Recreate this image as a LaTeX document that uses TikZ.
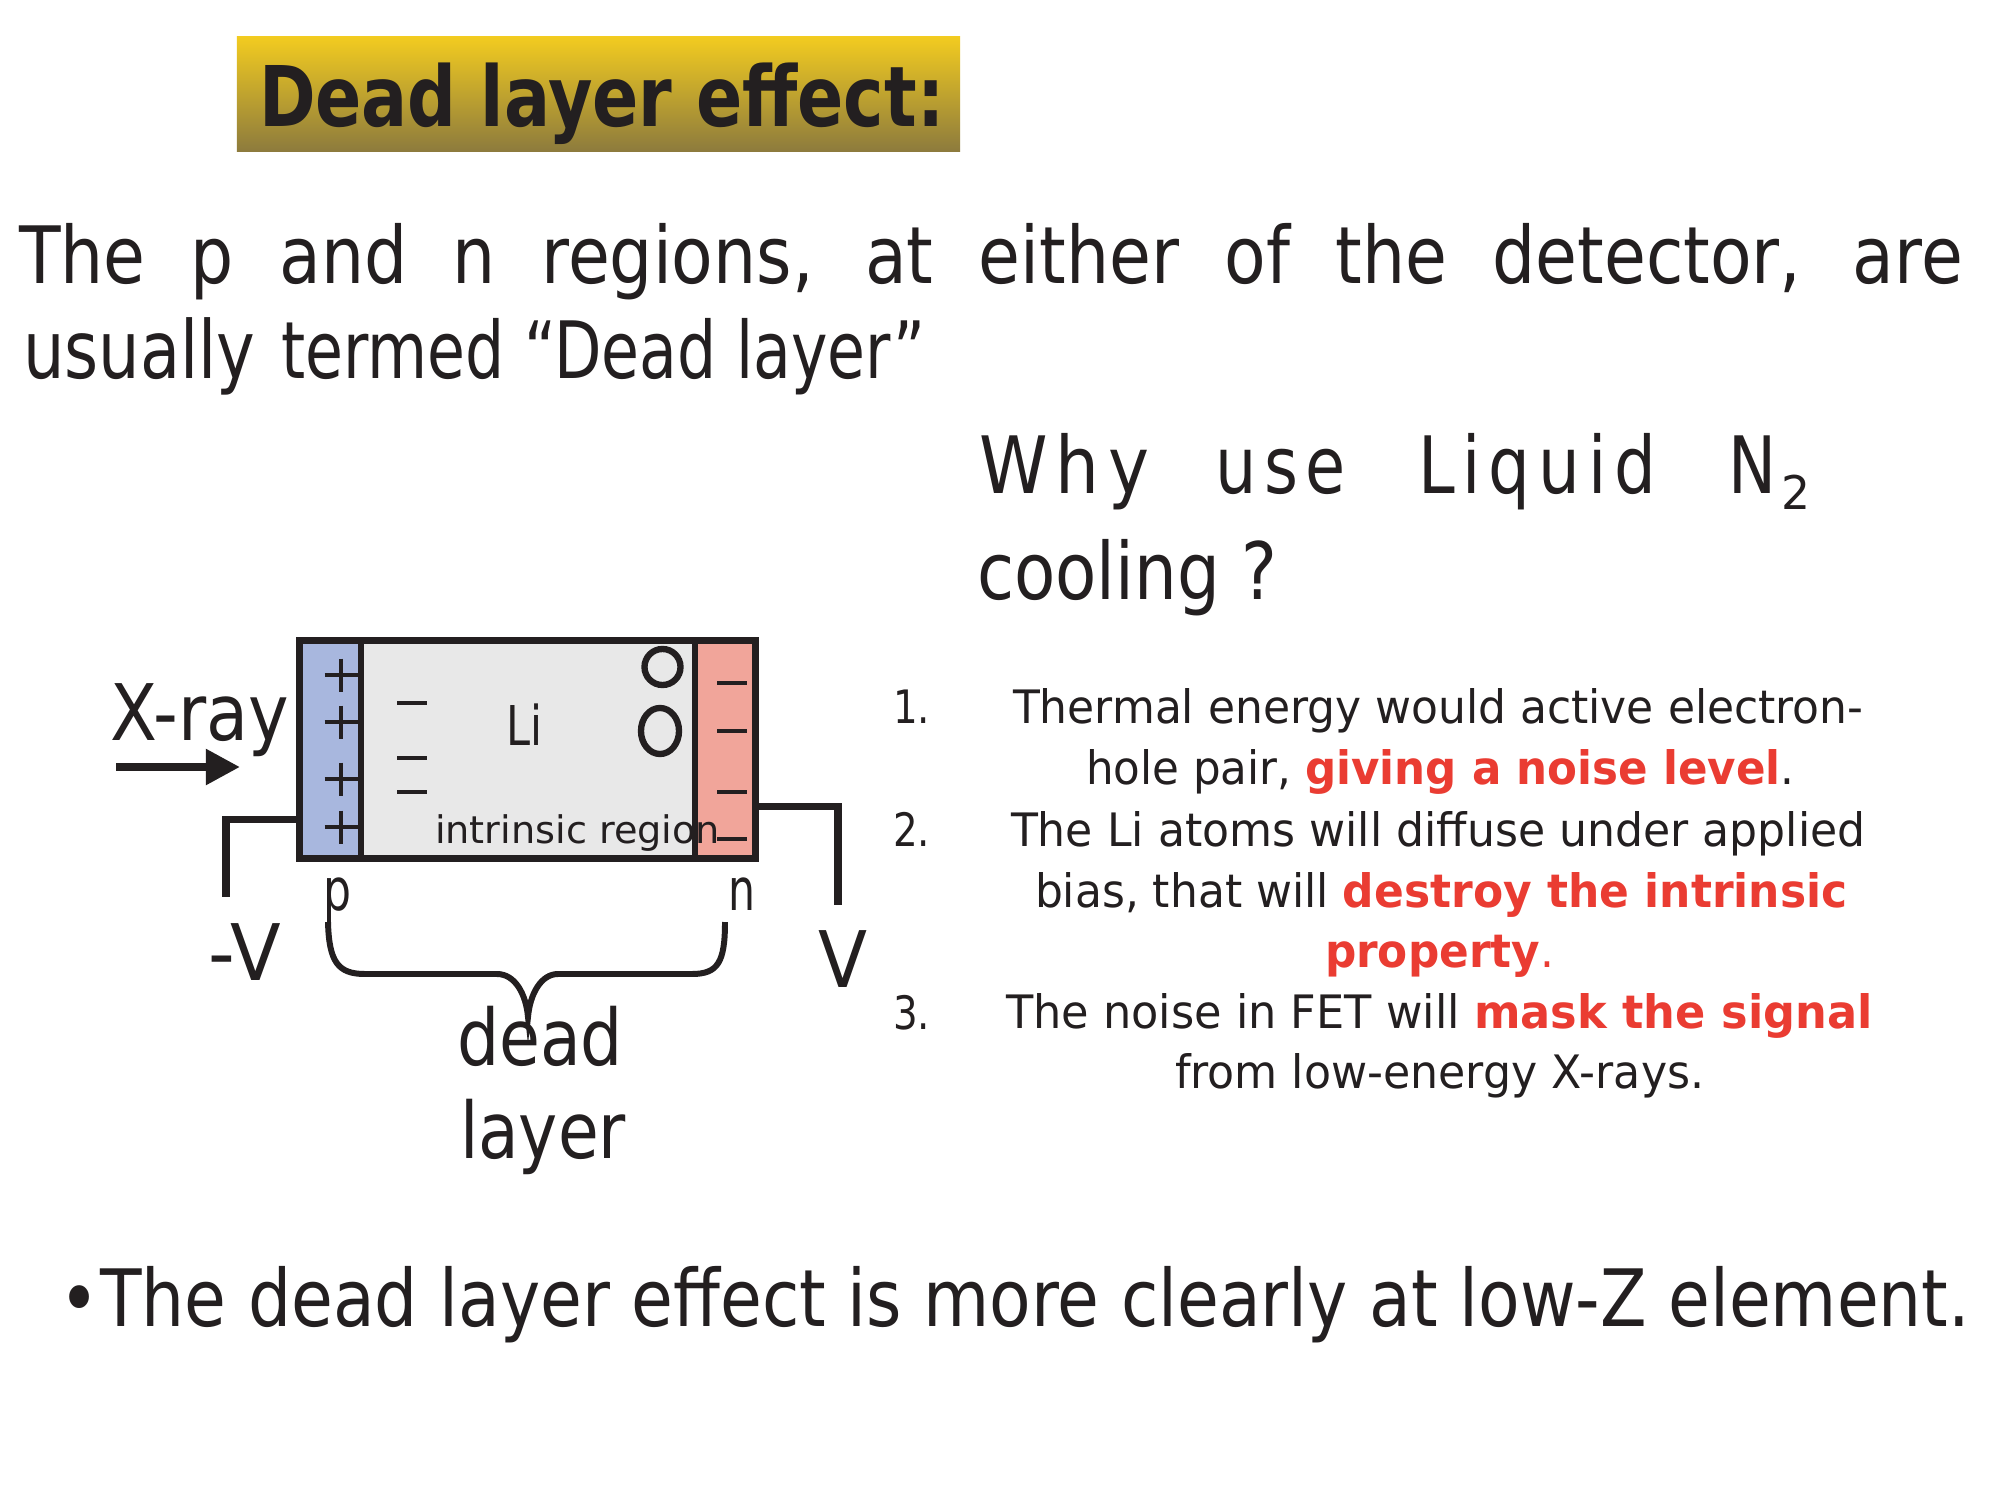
\documentclass[tikz,border=0pt]{standalone}
\usepackage{fontspec}
\setmainfont{DejaVu Sans}
\newfontfamily\spacedfont[LetterSpace=12]{DejaVu Sans}
\usepackage{graphicx}
\usetikzlibrary{arrows.meta}
\definecolor{fg}{HTML}{231F20}
\definecolor{hl}{HTML}{EA3C32}
\definecolor{pblue}{HTML}{A8B7DE}
\definecolor{igray}{HTML}{E8E8E8}
\definecolor{nred}{HTML}{F1A59A}
\definecolor{ttop}{HTML}{F2CB20}
\definecolor{tbot}{HTML}{8D7B3D}
\newlength\fitlen
\newcommand\fitto[2]{\settowidth{\fitlen}{#2}\pgfmathsetmacro\fitfac{#1/\fitlen}\scalebox{\fitfac}[1]{#2}}
\newcommand\fs[1]{\fontsize{#1}{#1}\selectfont}
\newcommand\hlb[1]{{\bfseries\color{hl}#1}}
\begin{document}
\begin{tikzpicture}[x=0.01cm,y=-0.01cm,
  txt/.style={inner sep=0pt,outer sep=0pt,anchor=base west,text=fg},
  wire/.style={draw=fg,line width=2pt},
  sign/.style={draw=fg,line width=1.4pt},
  hole/.style={draw=fg,line width=1.8pt}]
\useasboundingbox[fill=white] (0,0) rectangle (2000,1500);

% title
\node[inner sep=0pt, top color=ttop, bottom color=tbot, minimum width=7.23cm, minimum height=1.14cm] (tbox) at (598.5,94) {};
\node[txt] (title) at (259,127) {\fitto{6.85cm}{\fs{23.8pt}\bfseries Dead layer effect:}};

% intro text
\node[txt] (l1) at (19,283) {\scalebox{0.86}[1]{\makebox[22.59cm][s]{\fs{22.5pt}The p and n regions, at either of the detector, are}}};
\node[txt] (l2a) at (23,378) {\fitto{2.32cm}{\fs{22.8pt}usually}};
\node[txt] (l2b) at (281,378) {\fitto{6.44cm}{\fs{22.5pt}termed “Dead layer”}};

% question
\node[txt] (w1) at (979,493) {\fitto{1.70cm}{\fs{22.5pt}\spacedfont Why}};
\node[txt] (w2) at (1215,493) {\fitto{1.31cm}{\fs{22.5pt}\spacedfont use}};
\node[txt] (w3) at (1418,493) {\fitto{2.38cm}{\fs{22.5pt}\spacedfont Liquid}};
\node[txt] (w4) at (1728,493) {\fitto{0.48cm}{\fs{22.5pt}\spacedfont N}};
\node[txt] (w5) at (1781,509) {\fitto{0.29cm}{\fs{13.2pt}2}};
\node[txt] (w6) at (977,599) {\fitto{3.00cm}{\fs{22.5pt}cooling ?}};

% detector
\node[inner sep=0pt, minimum width=4.54cm, minimum height=2.16cm] (det) at (527.5,749.5) {};
\fill[igray] (361,641.5) rectangle (695,857.5);
\fill[pblue] (300.5,641.5) rectangle (361,857.5);
\fill[nred] (695,641.5) rectangle (754.5,857.5);
\draw[draw=fg,line width=1.5pt] (361,641.5) -- (361,857.5) (695,641.5) -- (695,857.5);
\draw[draw=fg,line width=2pt] (det.south west) rectangle (det.north east);

% plus signs (p side)
\foreach \yy in {675,722,779,827}{
  \draw[sign] (341,\yy-16.5) -- (341,\yy+16.5) (324.5,\yy) -- (357.5,\yy);
}
% minus signs (intrinsic)
\foreach \yy in {703,758,792}{
  \draw[sign] (397,\yy) -- (427,\yy);
}
% minus signs (n side)
\foreach \yy in {683,731,792,839}{
  \draw[sign] (717,\yy) -- (747,\yy);
}
% holes
\draw[hole] (662.5,667) ellipse [x radius=0.18cm, y radius=0.18cm];
\draw[hole] (660,731) ellipse [x radius=0.19cm, y radius=0.23cm];

\node[txt] (li) at (506,745) {\fitto{0.36cm}{\fs{15.6pt}Li}};
\node[txt] (intr) at (435,843) {\fitto{2.85cm}{\fs{10.8pt}intrinsic region}};

% wires
\coordinate (lwend) at (226,897);
\coordinate (rwend) at (838,905);
\draw[wire] ([yshift=-0.695cm]det.west) -| (lwend);
\draw[wire] ([yshift=-0.565cm]det.east) -| (rwend);

% X-ray
\node[txt] (xray) at (110,740) {\fitto{1.79cm}{\fs{22.2pt}X-ray}};
\coordinate (xa) at (116,767);
\coordinate (xb) at (240,767);
\draw[draw=fg,line width=2.3pt,-{Triangle[length=0.34cm,width=0.34cm]}] (xa) -- (xb);

% labels
\node[txt] (plab) at (323,910) {\fitto{0.28cm}{\fs{16.6pt}p}};
\node[txt] (nlab) at (728,910) {\fitto{0.27cm}{\fs{16.6pt}n}};
\node[txt] (mv) at (208,980) {\fitto{0.73cm}{\fs{22.2pt}-V}};
\node[txt] (pv) at (818,987) {\fitto{0.49cm}{\fs{22.2pt}V}};

% brace
\coordinate (bL) at (328,922);
\coordinate (bR) at (725,922);
\coordinate (btip) at (528,1017);
\draw[draw=fg,line width=1.7pt] (bL) .. controls (329,962) and (338,974) .. (365,974) -- (497,974)
  .. controls (515,974) and (526,994) .. (btip)
  .. controls (530,994) and (541,974) .. (558,974) -- (692,974)
  .. controls (718,974) and (725,962) .. (bR);

\node[txt] (dead) at (457,1065) {\fitto{1.66cm}{\fs{22.2pt}dead}};
\node[txt] (layer) at (460,1158) {\fitto{1.66cm}{\fs{22.2pt}layer}};

% list
\node[txt] (n1) at (893,723) {\fitto{0.37cm}{\fs{13.1pt}1.}};
\node[txt] (n2) at (893,846) {\fitto{0.37cm}{\fs{13.1pt}2.}};
\node[txt] (n3) at (893,1029) {\fitto{0.37cm}{\fs{13.1pt}3.}};
\node[txt] (t1) at (1013,723) {\fitto{8.50cm}{\fs{13.1pt}Thermal energy would active electron-}};
\node[txt] (t2) at (1086,784) {\fitto{7.08cm}{\fs{13.1pt}hole pair, \hlb{giving a noise level}.}};
\node[txt] (t3) at (1011,846) {\fitto{8.54cm}{\fs{13.1pt}The Li atoms will diffuse under applied}};
\node[txt] (t4) at (1035,907) {\fitto{8.12cm}{\fs{13.1pt}bias, that will \hlb{destroy the intrinsic}}};
\node[txt] (t5) at (1325,967) {\fitto{2.29cm}{\fs{13.1pt}\hlb{property}{\color{hl}.}}};
\node[txt] (t6) at (1006,1028) {\fitto{8.66cm}{\fs{13.1pt}The noise in FET will \hlb{mask the signal}}};
\node[txt] (t7) at (1175,1088) {\fitto{5.29cm}{\fs{13.1pt}from low-energy X-rays.}};

% bottom line
\node[txt] (bottom) at (60,1326) {\fitto{19.09cm}{\fs{22.5pt}•The dead layer effect is more clearly at low-Z element.}};
\end{tikzpicture}
\end{document}
